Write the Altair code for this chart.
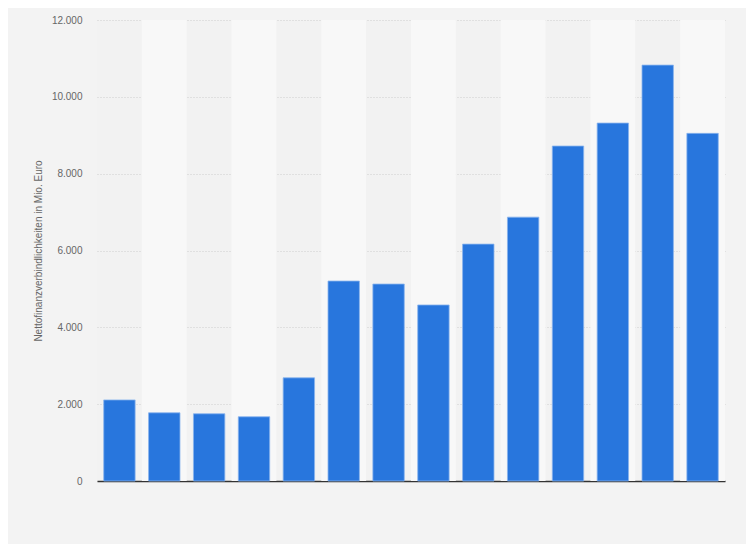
import altair as alt
import pandas as pd

categories = ["2008", "2009", "2010", "2011", "2012", "2013", "2014",
              "2015", "2016", "2017", "2018", "2019", "2020", "2021"]
values = [2110, 1775, 1750, 1672, 2686, 5205, 5127,
          4582, 6166, 6868, 8719, 9317, 10826, 9049]
band_flags = [i % 2 for i in range(len(categories))]

df = pd.DataFrame({"cat": categories, "value": values, "band": band_flags})

W, H = 628, 461
PI, PO = 0.3, 0.15
step = W / (len(categories) - PI + 2 * PO)

xenc = alt.X("cat:N", sort=categories,
             scale=alt.Scale(paddingInner=PI, paddingOuter=PO),
             axis=alt.Axis(labels=False, ticks=False, title=None,
                           domainColor="#333333", domainWidth=1.5, grid=False))

bands = alt.Chart(df).transform_filter("datum.band == 1").mark_bar(
    width=step, color="#f8f8f8"
).encode(x=xenc, y=alt.value(0), y2=alt.value(H))

bars = alt.Chart(df).mark_bar(
    color="#2876dd", stroke="#8ab4ee", strokeWidth=1, strokeOpacity=0.8
).encode(
    x=xenc,
    y=alt.Y("value:Q",
            scale=alt.Scale(domain=[0, 12000], nice=False),
            axis=alt.Axis(
                values=[0, 2000, 4000, 6000, 8000, 10000, 12000],
                labelExpr="replace(format(datum.value, ','), ',', '.')",
                title="Nettofinanzverbindlichkeiten in Mio. Euro",
                titleFontSize=10, titleFontWeight="normal", titleColor="#666666",
                titleFont="Liberation Sans", titlePadding=8,
                labelFont="Liberation Sans", labelFontSize=10, labelColor="#666666",
                labelPadding=15, ticks=False, domain=False,
                grid=True, gridColor="#cfcfcf", gridDash=[1, 2], gridWidth=1,
            )),
)

chart = alt.layer(bands, bars).properties(
    width=W, height=H,
    background="#f3f3f3",
    padding={"left": 89, "top": 12, "right": 21, "bottom": 63},
    autosize=alt.AutoSizeParams(type="none"),
).configure_view(fill="#f2f2f2", stroke=None)

chart.save("out.html", embed_options={"renderer": "svg", "actions": False})
